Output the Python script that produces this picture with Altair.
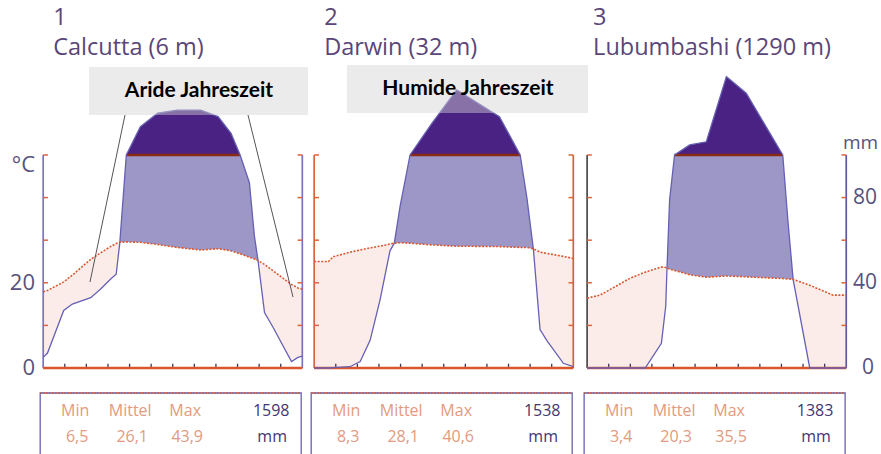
import altair as alt
import pandas as pd

# ---------------------------------------------------------------------------
# Climate diagrams (Walter/Lieth style) for three tropical stations.
# Each curve is sampled at its bends along the year: 0 = left edge, 12 = right.
# Temperature in °C, precipitation in mm (above 100 mm the scale is 1/10).
# ---------------------------------------------------------------------------
STATIONS = ["Calcutta", "Darwin", "Lubumbashi"]
NUMBERS = ["1", "2", "3"]
TITLES = ["Calcutta (6 m)", "Darwin (32 m)", "Lubumbashi (1290 m)"]

CAL_M = [0.0, 0.2, 0.95, 1.35, 2.2, 2.65, 3.15, 3.38, 3.55, 3.85, 4.5, 5.3, 6.2,
         7.3, 8.1, 8.7, 9.12, 9.55, 9.78, 9.95, 10.25, 10.65, 11.5, 11.8, 12.0]
CAL_T = [17.9, 18.2, 20.2, 21.8, 25.5, 27.0, 28.6, 29.2, 29.5, 29.6, 29.5, 29.0, 28.3,
         27.7, 28.0, 27.5, 26.8, 26.0, 25.6, 25.2, 24.3, 22.8, 19.6, 18.8, 18.5]
CAL_P = [5, 7, 27, 30, 33, 37, 42, 44, 59, 100, 233, 296, 311,
         311, 280, 202, 100, 87, 62, 50.4, 26, 19, 3, 5, 5.6]

DAR_M = [0.0, 0.66, 0.88, 1.66, 2.13, 2.59, 3.05, 3.51, 3.71, 3.98, 4.44, 5.45, 6.6,
         8.58, 9.54, 9.85, 10.15, 10.46, 10.77, 11.54, 12.0]
DAR_T = [25.0, 25.0, 26.1, 27.2, 27.7, 28.2, 28.6, 29.1, 29.3, 29.4, 29.3, 28.9, 28.6,
         28.5, 28.3, 28.3, 28.0, 27.2, 26.9, 26.2, 25.7]
DAR_P = [0, 0, 0.2, 0.6, 3, 13, 32, 55, 58.6, 76, 100, 248, 406,
         280, 100, 80, 56, 18, 13, 2.2, 0.6]

LUB_M = [0.0, 0.6, 2.0, 2.69, 3.44, 3.64, 3.7, 3.82, 4.05, 4.75, 5.52, 6.45, 7.37,
         9.06, 9.3, 9.54, 10.31, 10.46, 11.39, 12.0]
LUB_T = [16.4, 17.1, 21.1, 22.5, 23.7, 23.6, 23.5, 23.2, 22.9, 21.9, 21.3, 21.6, 21.4,
         21.0, 20.9, 20.8, 19.4, 19.1, 17.1, 17.1]
LUB_P = [0, 0, 0, 0, 11.6, 29, 47, 79, 100, 147, 162, 468, 390,
         100, 69, 41.6, 0, 0, 0, 0]

T_MIN = [6.5, 8.3, 3.4]
T_MEAN = [26.1, 28.1, 20.3]
T_MAX = [43.9, 40.6, 35.5]
P_SUM = [1598, 1538, 1383]

# ---------------------------------------------------------------------------
# Layout
# ---------------------------------------------------------------------------
W, H = 881, 454
X_DOMAIN = [-2.0, 38.8]          # months across the whole canvas
Y_DOMAIN = [-20.19, 86.38]       # °C units (20 mm of rain = 10 °C)
OFFSETS = [0.0, 12.55, 25.19]    # panel start, in months

x_scale = alt.Scale(domain=X_DOMAIN, nice=False, zero=False)
y_scale = alt.Scale(domain=Y_DOMAIN, nice=False, zero=False)


def px_x(month):
    return (month - X_DOMAIN[0]) / (X_DOMAIN[1] - X_DOMAIN[0]) * W


def px_y(value):
    return (Y_DOMAIN[1] - value) / (Y_DOMAIN[1] - Y_DOMAIN[0]) * H


PINK = "#fcece9"
LILAC = "#9d97c8"
DARK = "#4a2283"
T_COLOR = "#d9572f"
P_COLOR = "#6660b2"
RIM = "#8a2a14"
AXIS_LEFT = ["#7b73c2", "#d8643c", "#4a4a4a"]
AXIS_RIGHT = ["#7b73c2", "#c9653f", "#5c58a4"]
TICK = "#d9643c"
BASE = "#d9552c"
LABEL = "#57527e"
TITLE = "#5a4678"
STAT_LIGHT = "#e39a80"
STAT_DARK = "#3f3672"
FONT = "Open Sans"

# ---------------------------------------------------------------------------
# Curve table
# ---------------------------------------------------------------------------
series = [(CAL_M, CAL_T, CAL_P), (DAR_M, DAR_T, DAR_P), (LUB_M, LUB_T, LUB_P)]
rows = []
for name, off, (ms, ts, ps) in zip(STATIONS, OFFSETS, series):
    for m, t, p in zip(ms, ts, ps):
        rows.append({"station": name, "x": off + m, "t": t, "p": p})
curves = pd.DataFrame(rows)

base = alt.Chart(curves).transform_calculate(
    pc="min(datum.p, 100) / 2",
    pm="datum.p <= 100 ? datum.p / 2 : 50 + (datum.p - 100) / 20",
).transform_calculate(
    lo="min(datum.t, datum.pc)",
    hi="max(datum.t, datum.pc)",
    mark100="50",
)

X = alt.X("x:Q", scale=x_scale, axis=None)


def Yq(field):
    return alt.Y(field, scale=y_scale, axis=None, stack=None)


arid = base.mark_area(color=PINK).encode(X, Yq("t:Q"), alt.Y2("lo:Q"), detail="station:N")
humid = base.mark_area(color=LILAC).encode(X, Yq("hi:Q"), alt.Y2("t:Q"), detail="station:N")
wet = base.transform_filter("datum.p >= 100")
dark = wet.mark_area(color=DARK).encode(X, Yq("pm:Q"), alt.Y2("mark100:Q"), detail="station:N")
rim = wet.mark_line(color=RIM, strokeWidth=2.6).encode(X, Yq("mark100:Q"), detail="station:N")
p_line = base.mark_line(color=P_COLOR, strokeWidth=1.3).encode(X, Yq("pm:Q"), detail="station:N")
t_line = base.mark_line(color=T_COLOR, strokeWidth=1.6, strokeDash=[2, 1.5]).encode(
    X, Yq("t:Q"), detail="station:N")

# ---------------------------------------------------------------------------
# Hand-drawn style axes
# ---------------------------------------------------------------------------
frame_rows, tick_rows, month_rows, base_rows = [], [], [], []
for i, off in enumerate(OFFSETS):
    frame_rows.append({"xa": off, "y0": 0, "y1": 50, "c": AXIS_LEFT[i]})
    frame_rows.append({"xa": off + 12, "y0": 0, "y1": 50, "c": AXIS_RIGHT[i]})
    for v in range(0, 51, 10):
        tick_rows.append({"xa": off, "xb": off + 0.22, "y": v})
        tick_rows.append({"xa": off + 12 - 0.22, "xb": off + 12, "y": v})
    for k in range(1, 12):
        month_rows.append({"xa": off + k, "y0": 0, "y1": 1.0})
    base_rows.append({"xa": off, "xb": off + 12, "y": 0})

frames = alt.Chart(pd.DataFrame(frame_rows)).mark_rule(strokeWidth=1.7).encode(
    x=alt.X("xa:Q", scale=x_scale, axis=None), y=Yq("y0:Q"), y2="y1:Q",
    color=alt.Color("c:N", scale=None))
yticks = alt.Chart(pd.DataFrame(tick_rows)).mark_rule(strokeWidth=1.5, color=TICK).encode(
    x=alt.X("xa:Q", scale=x_scale, axis=None), x2="xb:Q", y=Yq("y:Q"))
mticks = alt.Chart(pd.DataFrame(month_rows)).mark_rule(strokeWidth=1.3, color="#3c3658").encode(
    x=alt.X("xa:Q", scale=x_scale, axis=None), y=Yq("y0:Q"), y2="y1:Q")
baseline = alt.Chart(pd.DataFrame(base_rows)).mark_rule(strokeWidth=2.6, color=BASE).encode(
    x=alt.X("xa:Q", scale=x_scale, axis=None), x2="xb:Q", y=Yq("y:Q"))

# ---------------------------------------------------------------------------
# Text and annotation layers (pixel positions)
# ---------------------------------------------------------------------------
PX = dict(scale=None)


def text_layer(df, **kw):
    return alt.Chart(df).mark_text(**kw).encode(
        x=alt.X("px:Q", **PX), y=alt.Y("py:Q", **PX), text="text:N",
        color=alt.Color("c:N", scale=None))


left_px = [px_x(o) for o in OFFSETS]

title_rows = []
for i, lp in enumerate(left_px):
    inset = [10, 10, 6][i]
    title_rows.append({"px": lp + inset, "py": 18, "text": NUMBERS[i], "c": TITLE})
    title_rows.append({"px": lp + inset, "py": 48, "text": TITLES[i], "c": TITLE})
titles = text_layer(pd.DataFrame(title_rows), align="left", baseline="middle",
                    font=FONT, fontSize=23.5)

left_labels = text_layer(pd.DataFrame([
    {"px": 35, "py": 165, "text": "°C", "c": LABEL},
    {"px": 35, "py": px_y(20), "text": "20", "c": LABEL},
    {"px": 35, "py": px_y(0), "text": "0", "c": LABEL},
]), align="right", baseline="middle", font=FONT, fontSize=22)

right_labels = text_layer(pd.DataFrame([
    {"px": 853, "py": px_y(40), "text": "80", "c": LABEL},
    {"px": 853, "py": px_y(20), "text": "40", "c": LABEL},
    {"px": 862, "py": px_y(0), "text": "0", "c": LABEL},
]), align="left", baseline="middle", font=FONT, fontSize=21)
unit_label = text_layer(pd.DataFrame([
    {"px": 843, "py": 143, "text": "mm", "c": LABEL},
]), align="left", baseline="middle", font=FONT, fontSize=19)

# Callout boxes for the dry / wet season
boxes = pd.DataFrame([
    {"x1": 89, "x2": 308, "y1": 67, "y2": 115},
    {"x1": 347, "x2": 588, "y1": 65, "y2": 113},
])
callouts = alt.Chart(boxes).mark_rect(color="#d2d2d2", opacity=0.45).encode(
    x=alt.X("x1:Q", **PX), x2="x2:Q", y=alt.Y("y1:Q", **PX), y2="y2:Q")
callout_text = alt.Chart(pd.DataFrame([
    {"px": 199, "py": 91, "text": "Aride Jahreszeit"},
    {"px": 468, "py": 89, "text": "Humide Jahreszeit"},
])).mark_text(font="Lato", fontWeight="bold", fontSize=21, color="#000000",
              baseline="middle", align="center").encode(
    x=alt.X("px:Q", **PX), y=alt.Y("py:Q", **PX), text="text:N")
leaders = alt.Chart(pd.DataFrame([
    {"x1": 125, "y1": 115, "x2": 90, "y2": 282},
    {"x1": 248, "y1": 115, "x2": 293, "y2": 297},
])).mark_rule(color="#555555", strokeWidth=1).encode(
    x=alt.X("x1:Q", **PX), y=alt.Y("y1:Q", **PX), x2="x2:Q", y2="y2:Q")

# Summary boxes under each diagram
stat_boxes = pd.DataFrame([{"x1": lp - 3, "x2": lp + 258, "y1": 393, "y2": 470} for lp in left_px])
stat_frame = alt.Chart(stat_boxes).mark_rect(fillOpacity=0, stroke="#6a60ad", strokeWidth=1.3).encode(
    x=alt.X("x1:Q", **PX), x2="x2:Q", y=alt.Y("y1:Q", **PX), y2="y2:Q")
stat_top = alt.Chart(stat_boxes).mark_rule(color=BASE, strokeWidth=1.6, strokeDash=[1.5, 1.5]).encode(
    x=alt.X("x1:Q", **PX), x2="x2:Q", y=alt.Y("y1:Q", **PX))


def de(v):
    return f"{v:.1f}".replace(".", ",")


stat_rows = []
for i, lp in enumerate(left_px):
    for dx, head, val in [(32, "Min", T_MIN[i]), (87, "Mittel", T_MEAN[i]), (142, "Max", T_MAX[i])]:
        stat_rows.append({"px": lp + dx, "py": 411, "text": head, "c": STAT_LIGHT})
        stat_rows.append({"px": lp + dx + 2, "py": 437, "text": de(val), "c": STAT_LIGHT})
    stat_rows.append({"px": lp + 228, "py": 411, "text": str(P_SUM[i]), "c": STAT_DARK})
    stat_rows.append({"px": lp + 229, "py": 437, "text": "mm", "c": STAT_DARK})
stats = text_layer(pd.DataFrame(stat_rows), align="center", baseline="middle",
                   font=FONT, fontSize=16)

chart = alt.layer(
    arid, humid, dark, rim,
    frames, yticks, mticks, baseline,
    p_line, t_line,
    callouts, leaders, callout_text,
    titles, left_labels, right_labels, unit_label,
    stat_frame, stat_top, stats,
).properties(
    width=W, height=H,
    autosize=alt.AutoSizeParams(type="none"),
    padding=0,
).configure_view(stroke=None)

chart.save("out.html", embed_options={"renderer": "svg", "actions": False})
